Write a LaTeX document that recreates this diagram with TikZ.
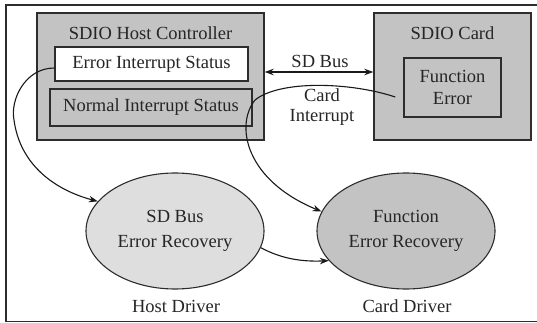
\documentclass[tikz,border=0pt]{standalone}
\usepackage{fontspec}
\setmainfont{Liberation Serif}
\usetikzlibrary{shapes.geometric,arrows.meta}

\definecolor{boxgray}{RGB}{195,195,195}
\definecolor{lightgray}{RGB}{222,222,222}
\definecolor{edge}{RGB}{45,45,45}

\tikzset{
  lbl/.style={font=\fontsize{18.5}{22}\selectfont, text=black!85, align=center, inner sep=0pt},
  panel/.style={draw=edge, line width=1.4pt, fill=boxgray, inner sep=0pt},
  regbox/.style={draw=edge, line width=1.4pt, inner sep=0pt, lbl},
  blob/.style={ellipse, draw=edge, line width=1.1pt, inner sep=0pt, lbl},
  flow/.style={draw=black!90, line width=1.1pt, -{Stealth[length=9pt,width=6.5pt]}},
}

\begin{document}
\begin{tikzpicture}[x=1pt,y=-1pt]
  \useasboundingbox (0,0) rectangle (537,323);
  \clip (0,0) rectangle (537,323);

  % outer frame
  \draw[edge, line width=1.6pt] (6,5) rectangle (600,321.5);

  % host controller
  \node[panel, minimum width=227pt, minimum height=127pt] (hc) at (150.5,76.5) {};
  \node[lbl] (hctitle) at (150.5,33) {SDIO Host Controller};
  \node[regbox, fill=white, minimum width=193pt, minimum height=34pt] (eis) at (151.5,64) {Error Interrupt Status};
  \node[regbox, fill=boxgray, minimum width=202pt, minimum height=37pt] (nis) at (151,107.5) {Normal Interrupt Status};

  % card
  \node[panel, minimum width=157pt, minimum height=127pt] (card) at (452.5,76.5) {};
  \node[lbl] (cardtitle) at (452.5,33) {SDIO Card};
  \node[regbox, fill=boxgray, minimum width=97pt, minimum height=59pt] (fe) at (452.5,87.5) {Function\\Error};

  % bus between host and card
  \coordinate (busy) at (320,72);
  \draw[black!90, line width=1.1pt, {Stealth[length=9pt,width=6.5pt]}-{Stealth[length=9pt,width=6.5pt]}]
    (hc.east |- busy) -- (card.west |- busy);
  \node[lbl] (buslbl) at (320,61) {SD Bus};
  \node[lbl, font=\fontsize{18.5}{20}\selectfont] (cilbl) at (322,107) {Card\\Interrupt};

  % driver side
  \node[blob, fill=lightgray, minimum width=178pt, minimum height=116pt,
        font=\fontsize{18.5}{25}\selectfont] (sdb) at (175,231) {SD Bus\\Error Recovery};
  \node[blob, fill=boxgray, minimum width=178pt, minimum height=116pt,
        font=\fontsize{18.5}{25}\selectfont] (fer) at (406,231) {Function\\Error Recovery};
  \node[lbl] (hd) at (176,306) {Host Driver};
  \node[lbl] (cd) at (407,306) {Card Driver};

  % interrupt and recovery paths
  \coordinate (cistart) at ([shift={(-8pt,-9.5pt)}]fe.west);
  \draw[flow] (cistart) .. controls (350,82) and (280,80) .. (255,100)
                         .. controls (235,125) and (245,180) .. (fer.167);
  \draw[flow] ([yshift=-4pt]eis.west) .. controls (25,68) and (10,100) .. (14,120)
                                       .. controls (20,165) and (55,190) .. (sdb.159);
  \draw[flow] (sdb.-11) .. controls (280,258) and (300,262) .. (fer.-159);
\end{tikzpicture}
\end{document}
